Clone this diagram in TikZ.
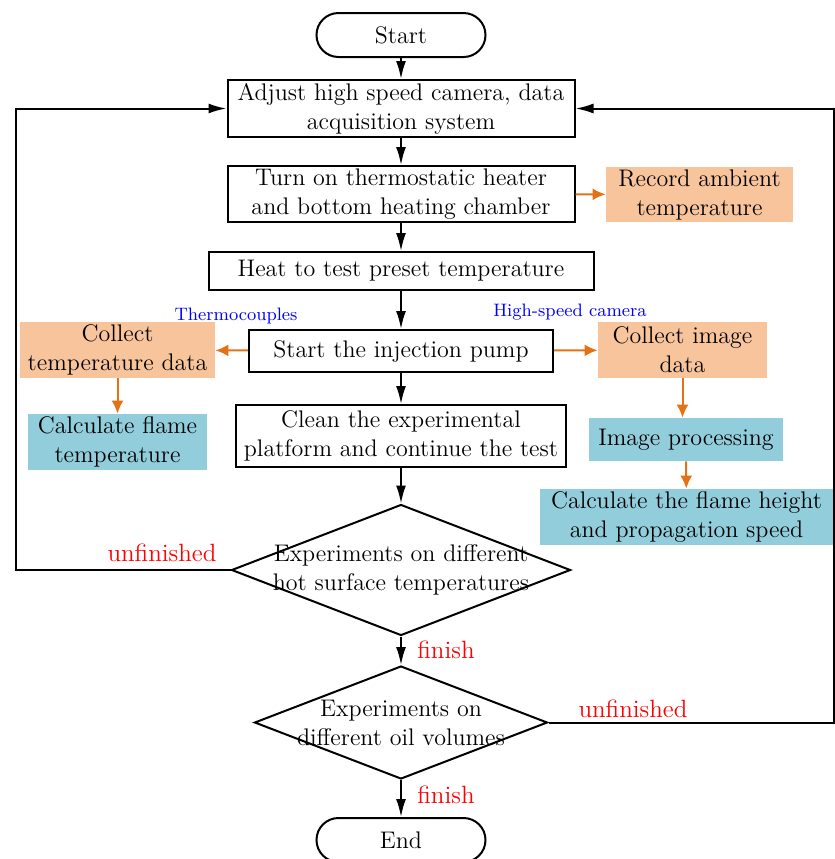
\documentclass[tikz,border=0pt]{standalone}
\usetikzlibrary{arrows.meta,shapes.geometric}

\definecolor{peach}{RGB}{248,196,155}
\definecolor{skyblue}{RGB}{146,205,220}
\definecolor{sideorange}{RGB}{230,112,20}

\tikzset{
  stepbox/.style={draw, line width=1pt, inner sep=1pt, align=center,
                  font=\fontsize{12}{14.5}\selectfont},
  termbox/.style={stepbox, rounded corners=11pt,
                  minimum width=84.5pt, minimum height=22pt},
  peachbox/.style={fill=peach, inner sep=1pt, align=center,
                   font=\fontsize{12}{14.5}\selectfont},
  bluebox/.style={fill=skyblue, inner sep=1pt, align=center,
                  font=\fontsize{12}{14.5}\selectfont},
  decision/.style={diamond, draw, line width=1pt, inner sep=0pt},
  flow arrow/.style={-{Latex[length=9pt,width=5pt]}, line width=1pt},
  side arrow/.style={-{Latex[length=6.5pt,width=6pt]}, sideorange, line width=1pt},
  redtag/.style={text=red, font=\fontsize{12.5}{14}\selectfont},
  bluetag/.style={text=blue, font=\fontsize{9}{10}\selectfont},
}

\begin{document}
\begin{tikzpicture}[x=0.5pt, y=-0.5pt]
    \useasboundingbox (0,0) rectangle (835,859);

    % --- main column ---
    \node[termbox] (start) at (401,35) {Start};
    \node[stepbox, minimum width=173.5pt, minimum height=28.5pt] (adjust) at (401,108.5)
      {Adjust high speed camera, data\\acquisition system};
    \node[stepbox, minimum width=173.5pt, minimum height=28pt] (heater) at (401,194)
      {Turn on thermostatic heater\\and bottom heating chamber};
    \node[stepbox, minimum width=192.5pt, minimum height=19pt] (preset) at (401,271)
      {Heat to test preset temperature};
    \node[stepbox, minimum width=152pt, minimum height=21pt] (pump) at (401,351)
      {Start the injection pump};
    \node[stepbox, minimum width=165pt, minimum height=31pt] (clean) at (401,436)
      {Clean the experimental\\platform and continue the test};

    % --- decisions ---
    \node[decision, minimum width=169.5pt, minimum height=65.5pt] (hot) at (401,570) {};
    \node[align=center, font=\fontsize{12}{14.5}\selectfont] (hottext) at (hot)
      {Experiments on different\\hot surface temperatures};
    \node[decision, minimum width=146.5pt, minimum height=56.5pt] (oil) at (401,722.5) {};
    \node[align=center, font=\fontsize{12}{14.5}\selectfont] (oiltext) at (oil)
      {Experiments on\\different oil volumes};
    \node[termbox] (end) at (401,840) {End};

    % --- side boxes ---
    \node[peachbox, minimum width=93.5pt, minimum height=27.5pt] (ambient) at (699.5,194.5)
      {Record ambient\\temperature};
    \node[peachbox, minimum width=97.5pt, minimum height=28pt] (tempdata) at (117.5,350)
      {Collect\\temperature data};
    \node[peachbox, minimum width=84.5pt, minimum height=28pt] (imgdata) at (682.5,350)
      {Collect image\\data};
    \node[bluebox, minimum width=89.5pt, minimum height=28pt] (flametemp) at (117.5,442)
      {Calculate flame\\temperature};
    \node[bluebox, minimum width=97pt, minimum height=21.5pt] (imgproc) at (686,439.5)
      {Image processing};
    \node[bluebox, minimum width=146.5pt, minimum height=28pt] (flameheight) at (686.5,517)
      {Calculate the flame height\\and propagation speed};

    % --- tags ---
    \node[bluetag] (thermo) at (236,316) {Thermocouples};
    \node[bluetag] (camera) at (570,312) {High-speed camera};
    \node[redtag] (unfinA) at (162,553) {unfinished};
    \node[redtag] (finA) at (446,650) {finish};
    \node[redtag] (unfinB) at (633,709) {unfinished};
    \node[redtag] (finB) at (446,795) {finish};

    % --- black flow ---
    \draw[flow arrow] (start) -- (adjust);
    \draw[flow arrow] (adjust) -- (heater);
    \draw[flow arrow] (heater) -- (preset);
    \draw[flow arrow] (preset) -- (pump);
    \draw[flow arrow] (pump) -- (clean);
    \draw[flow arrow] (clean) -- (hot);
    \draw[flow arrow] (hot.south) -- (oil.north);
    \draw[flow arrow] (oil.south) -- (end.north);

    % --- loops back ---
    \coordinate (leftturn) at (16,570);
    \coordinate (rightturn) at (834,722.5);
    \draw[flow arrow] (hot.west) -- (leftturn) |- (adjust.west);
    \draw[flow arrow] (oil.east) -- (rightturn) |- (adjust.east);

    % --- orange side flow ---
    \draw[side arrow] (heater) -- (ambient);
    \draw[side arrow] (pump) -- (tempdata);
    \draw[side arrow] (pump) -- (imgdata);
    \draw[side arrow] (tempdata) -- (flametemp);
    \draw[side arrow] (imgdata.south) -- (imgdata.south |- imgproc.north);
    \draw[side arrow] (imgproc) -- (flameheight);
  \end{tikzpicture}
\end{document}
